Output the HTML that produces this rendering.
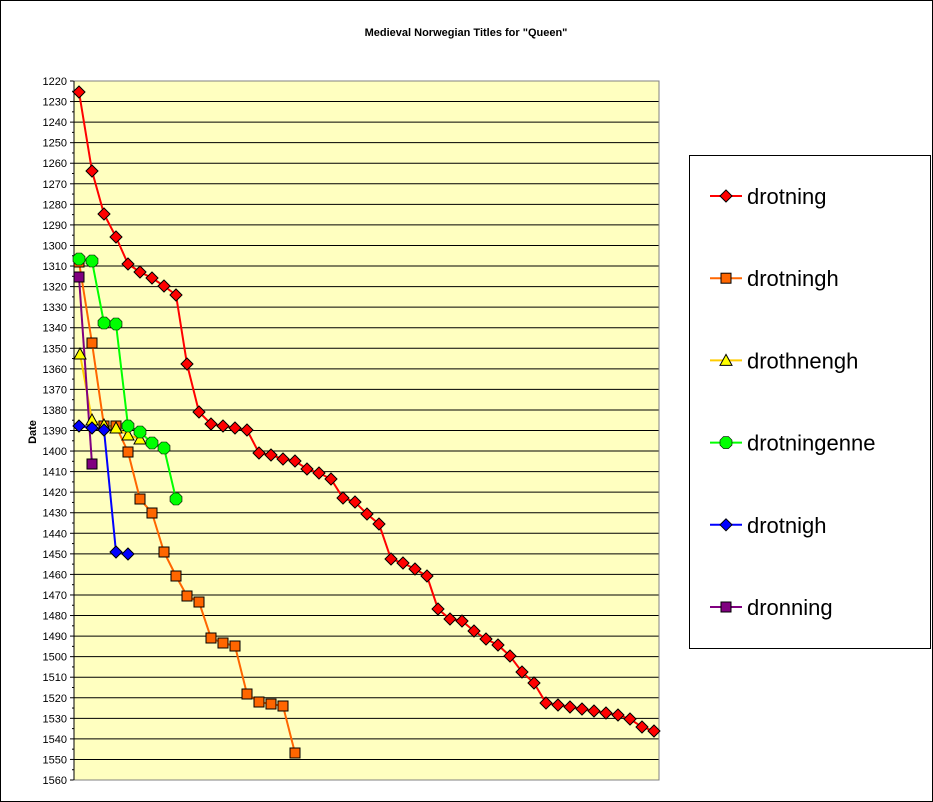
<!DOCTYPE html>
<html><head><meta charset="utf-8"><style>body{margin:0;background:#fff}svg{display:block;font-family:"Liberation Sans",Arial,sans-serif}</style></head><body>
<svg width="933" height="802" viewBox="0 0 933 802" xmlns="http://www.w3.org/2000/svg">
<rect x="0.5" y="0.5" width="932" height="801" fill="#fff" stroke="#000"/>
<text x="466" y="36" font-size="11" font-weight="bold" text-anchor="middle">Medieval Norwegian Titles for "Queen"</text>
<rect x="74" y="81" width="585" height="699" fill="#ffffc0"/>
<g id="grid" stroke="#000" stroke-width="1"></g>
<rect x="74" y="81" width="585" height="699" fill="none" stroke="#808080"/>
<line x1="74" y1="81" x2="74" y2="780" stroke="#000"/>
<g id="ticks" font-size="11" text-anchor="end"></g>
<text transform="translate(36,432) rotate(-90)" font-size="11" font-weight="bold" text-anchor="middle">Date</text>
<g id="series"></g>
<rect x="689.5" y="155.5" width="241" height="493" fill="#fff" stroke="#000"/>
<g id="legend" font-size="22"></g>
</svg>
<script>
var NS="http://www.w3.org/2000/svg";
function el(p,t,a,txt){var e=document.createElementNS(NS,t);for(var k in a)e.setAttribute(k,a[k]);if(txt)e.textContent=txt;document.getElementById(p).appendChild(e);return e;}
function Y(v){return 81+(v-1220)*699/340;}
for(var v=1220;v<=1560;v+=10){var y=Y(v);if(v>1220&&v<1560)el("grid","line",{x1:74,y1:y,x2:659,y2:y});el("ticks","text",{x:67,y:y+4},String(v));el("grid","line",{x1:70,y1:y,x2:74,y2:y});}
for(var v=1225;v<1560;v+=10){el("grid","line",{x1:72,y1:Y(v),x2:74,y2:Y(v)});}
var S=[
["#ff0000","#ff0000","d",[[79,92],[92,171],[104,214],[116,237],[128,264],[140,272],[152,278],[164,286],[176,295],[187,364],[199,412],[211,424],[223,426],[235,428],[247,430],[259,453],[271,455],[283,459],[295,461],[307,469],[319,473],[331,479],[343,498],[355,502],[367,514],[379,524],[391,559],[403,563],[415,569],[427,576],[438,609],[450,619],[462,621],[474,631],[486,639],[498,645],[510,656],[522,672],[534,683],[546,703],[558,705],[570,707],[582,709],[594,711],[606,713],[618,715],[630,719],[642,727],[654,731]]],
["#ff6600","#ff6600","s",[[79,262],[92,343],[104,426],[116,426],[128,452],[140,499],[152,513],[164,552],[176,576],[187,596],[199,602],[211,638],[223,643],[235,646],[247,694],[259,702],[271,704],[283,706],[295,753]]],
["#ffcc00","#ffff00","t",[[80,354],[92,420],[104,425],[116,428],[128,435],[140,439]]],
["#00ff00","#00ff00","c",[[79,259],[92,261],[104,323],[116,324],[128,426],[140,432],[152,443],[164,448],[176,499]]],
["#0000ff","#0000ff","d",[[79,426],[92,428],[104,430],[116,552],[128,554]]],
["#800080","#800080","s",[[79,277],[92,464]]]
];
function marker(g,type,x,y,f,s){s=s||1;
 if(type=="d")el(g,"polygon",{points:[x,y-6*s,x+6*s,y,x,y+6*s,x-6*s,y].join(","),fill:f,stroke:"#000","stroke-width":1});
 if(type=="s")el(g,"rect",{x:x-5*s,y:y-5*s,width:10*s,height:10*s,fill:f,stroke:"#000"});
 if(type=="t")el(g,"polygon",{points:[x,y-6*s,x+6*s,y+5*s,x-6*s,y+5*s].join(","),fill:f,stroke:"#000"});
 if(type=="c")el(g,"polygon",{points:[x-2.5*s,y-6*s,x+2.5*s,y-6*s,x+6*s,y-2.5*s,x+6*s,y+2.5*s,x+2.5*s,y+6*s,x-2.5*s,y+6*s,x-6*s,y+2.5*s,x-6*s,y-2.5*s].join(","),fill:f,stroke:"#000","stroke-width":0.6});
}
S.forEach(function(s){el("series","polyline",{points:s[3].map(function(p){return p.join(",")}).join(" "),fill:"none",stroke:s[0],"stroke-width":2});});
S.forEach(function(s){s[3].forEach(function(p){marker("series",s[2],p[0],p[1],s[1]);});});
var names=["drotning","drotningh","drothnengh","drotningenne","drotnigh","dronning"];
names.forEach(function(n,i){var y=196+i*82.2;el("legend","line",{x1:710,y1:y,x2:742,y2:y,stroke:S[i][0],"stroke-width":2});marker("legend",S[i][2],726,y,S[i][1]);el("legend","text",{x:747,y:y+8},n);});
</script>
</body></html>
